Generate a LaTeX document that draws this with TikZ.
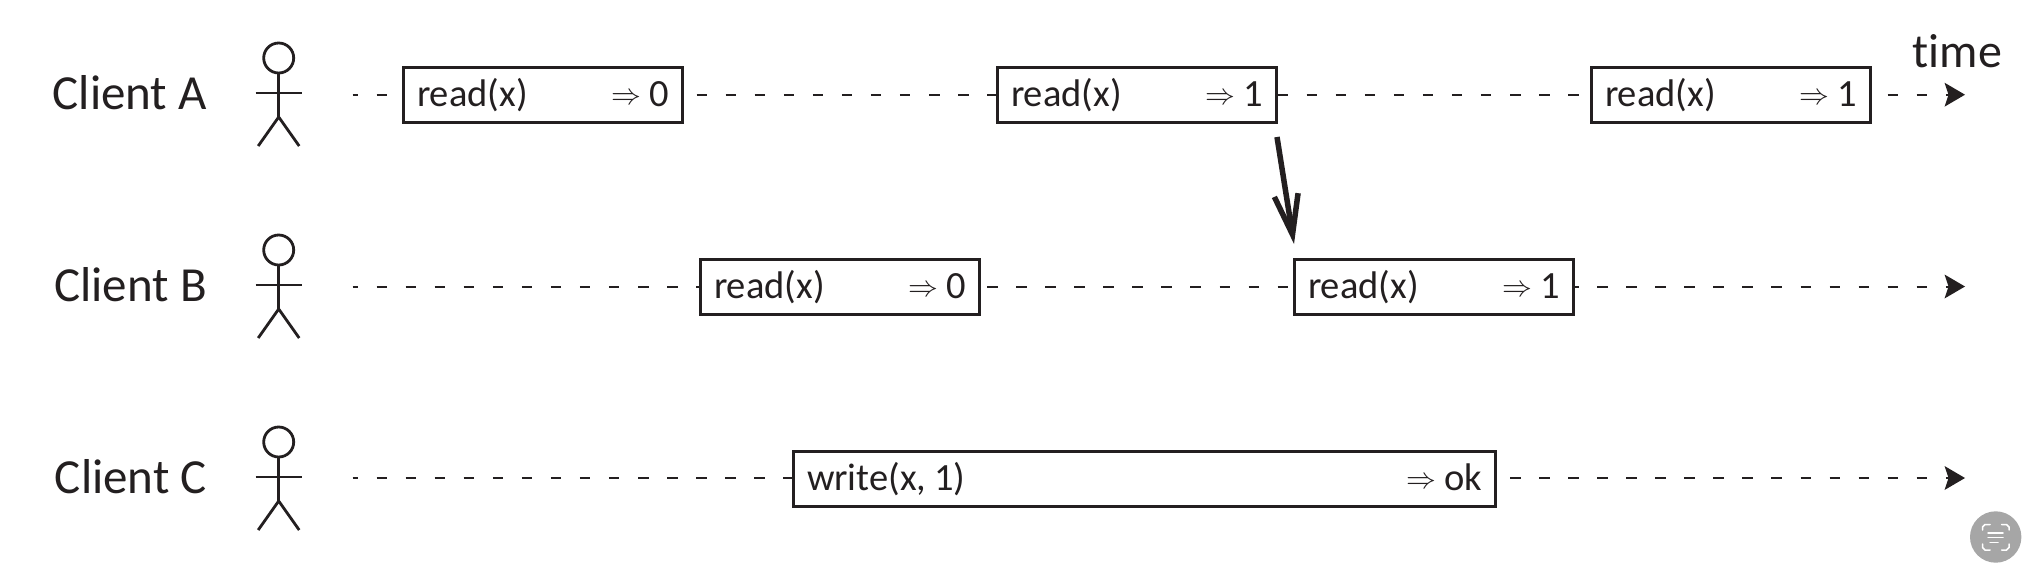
\documentclass[tikz,border=0pt]{standalone}
\usepackage{fontspec}
\usepackage{graphicx}
\setmainfont{Carlito}
\usetikzlibrary{arrows.meta}
\definecolor{ink}{HTML}{231F20}
\newcommand{\rarr}{{\fontsize{24.88}{26}\selectfont\raisebox{2pt}{\scalebox{1.2}{$\Rightarrow$}}}}
\tikzset{
  opbox/.style={draw=ink,line width=3pt,fill=white,text=ink,anchor=center,outer sep=0pt,inner xsep=13.5pt,inner ysep=0pt,
    text height=39.5pt,text depth=15.5pt,font=\fontsize{38.5}{42}\selectfont,align=left},
  clientlabel/.style={text=ink,font=\fontsize{49}{53}\selectfont,anchor=base east,inner sep=0pt},
  timeline/.style={draw=ink,line width=2pt,dash pattern=on 10.5pt off 18.55pt},
  timetip/.style={-{Stealth[length=20.5pt,width=24pt,inset=4pt,line width=0pt]}},
  stick/.style={draw=ink,line width=2.8pt},
  causal/.style={draw=ink,line width=5.5pt,-{Straight Barb[length=40pt,width=24pt,line width=5.5pt]}},
  figure/.pic={
    \draw[stick] (0,-36) circle[radius=15pt];
    \draw[stick] (0,-21) -- (0,23);
    \draw[stick] (-23,-1) -- (23,-1);
    \draw[stick] (-20.5,52) -- (0,23) -- (20.5,52);
  }
}
\begin{document}
\begin{tikzpicture}[x=1pt,y=-1pt]
\useasboundingbox (0,0) rectangle (2038,582);
% labels
\node[clientlabel] (la) at (207,109) {Client A};
\node[clientlabel] (lb) at (207,301) {Client B};
\node[clientlabel] (lc) at (207,493) {Client C};
\node[text=ink,font=\fontsize{48}{52}\selectfont,anchor=base,inner sep=0pt] (tm) at (1957.5,67) {t\kern0pt ime};
% stick figures
\pic at (278.7,94) {figure};
\pic at (278.7,286) {figure};
\pic at (278.7,478) {figure};
% line ends
\coordinate (a0) at (352.5,94.7);
\coordinate (a9) at (1965,94.7);
\coordinate (b0) at (352.5,286.5);
\coordinate (b9) at (1965,286.5);
\coordinate (c0) at (352.5,478);
\coordinate (c9) at (1965,478);
% boxes
\node[opbox,text width=252pt] (A1) at (543,94.75) {read(x)\hfill\rarr\hspace{.2em}0};
\node[opbox,text width=252pt] (A2) at (1137,94.75) {read(x)\hfill\rarr\hspace{.2em}1};
\node[opbox,text width=252pt] (A3) at (1731,94.75) {read(x)\hfill\rarr\hspace{.2em}1};
\node[opbox,text width=252pt] (B1) at (840,286.75) {read(x)\hfill\rarr\hspace{.2em}0};
\node[opbox,text width=252pt] (B2) at (1434,286.75) {read(x)\hfill\rarr\hspace{.2em}1};
\node[opbox,text width=675pt] (C1) at (1144.5,478.75) {write(x,\hspace{.2em}1)\hfill\rarr\hspace{.2em}ok};
% timelines
\draw[timeline,dash phase=5pt] (a0) -- (A1.west |- a0);
\draw[timeline,dash phase=14.95pt] (A1.east |- a0) -- (A2.west |- a0);
\draw[timeline,dash phase=27.95pt] (A2.east |- a0) -- (A3.west |- a0);
\draw[timeline,timetip,dash phase=11.9pt] (A3.east |- a0) -- (a9);
\draw[timeline,dash phase=5pt] (b0) -- (B1.west |- b0);
\draw[timeline,dash phase=21.45pt] (B1.east |- b0) -- (B2.west |- b0);
\draw[timeline,timetip,dash phase=5.4pt] (B2.east |- b0) -- (b9);
\draw[timeline,dash phase=5pt] (c0) -- (C1.west |- c0);
\draw[timeline,timetip,dash phase=14.55pt] (C1.east |- c0) -- (c9);
% causal arrow
\coordinate (cs) at (1277,137);
\coordinate (ce) at (1294,244);
\draw[causal] (cs) -- (ce);
% corner button
\fill[black!35] (1995.7,537) circle[radius=25.7pt];
\begin{scope}[white,line width=1.5pt,line cap=round]
\draw (1990,524.5) -- (1985,524.5) to[bend right=30] (1982.5,527) -- (1982.5,530);
\draw (2001.5,524.5) -- (2006.5,524.5) to[bend left=30] (2009,527) -- (2009,530);
\draw (1990,550) -- (1985,550) to[bend left=30] (1982.5,547.5) -- (1982.5,544);
\draw (2001.5,550) -- (2006.5,550) to[bend right=30] (2009,547.5) -- (2009,544);
\draw (1988,533) -- (2003,533);
\draw (1988,537.7) -- (2003,537.7);
\draw (1990,542.5) -- (1998,542.5);
\end{scope}
\end{tikzpicture}
\end{document}
